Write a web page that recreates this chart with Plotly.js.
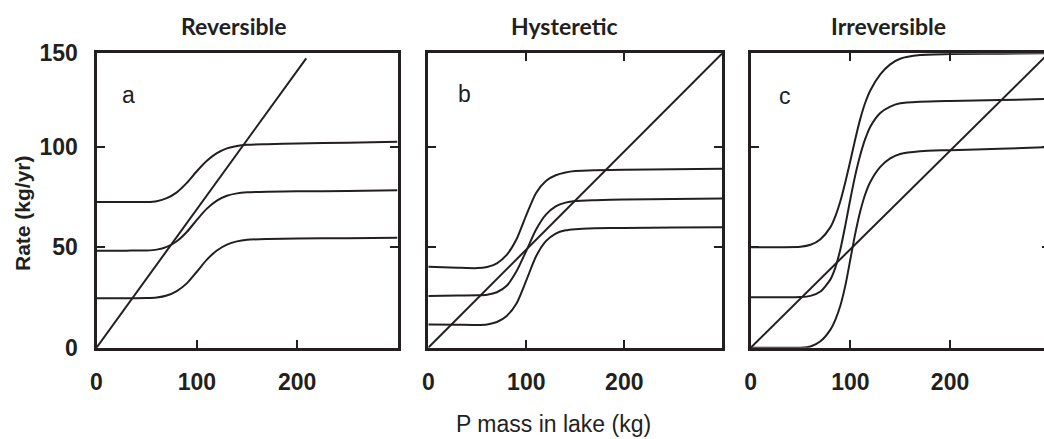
<!DOCTYPE html>
<html>
<head>
<meta charset="utf-8">
<script src="https://cdn.plot.ly/plotly-3.0.1.min.js"></script>
<style>
html, body { margin: 0; padding: 0; overflow: hidden; background: #fff; }
#chart { width: 1052px; height: 439px; }
</style>
</head>
<body>
<div id="chart"></div>
<script>
// ---------- data ----------
var panelTitles = ["Reversible", "Hysteretic", "Irreversible"];
var panelLetters = ["a", "b", "c"];
var xTickVals = [0, 100, 200];
var xTickText = ["0", "100", "200"];
var yTickVals = [0, 50, 100, 146.5];
var yTickText = ["0", "50", "100", "150"];
var xAxisTitle = "P mass in lake (kg)";
var yAxisTitle = "Rate (kg/yr)";

// Panel a: Reversible
var aLineX = [0, 209];
var aLineY = [0, 144];
var aX = [0, 30, 50, 60, 70, 80, 90, 100, 110, 120, 130, 140, 150, 170, 200, 250, 300];
var aTop = [72.5, 72.5, 72.5, 72.9, 74.4, 77.3, 82, 87.8, 93, 96.8, 99.2, 100.4, 101, 101.3, 101.6, 102, 102.5];
var aMid = [48.3, 48.3, 48.4, 48.8, 50.2, 53, 57.6, 63.6, 69.2, 73.2, 75.6, 76.8, 77.3, 77.6, 77.8, 78, 78.3];
var aLow = [24.6, 24.6, 24.7, 25, 26, 28.2, 32, 37.8, 43.8, 48.4, 51.3, 52.9, 53.7, 54.1, 54.3, 54.5, 54.7];

// Panel b: Hysteretic
var bLineX = [0, 300];
var bLineY = [0, 146.5];
var bX = [0, 30, 50, 60, 70, 80, 90, 100, 110, 120, 130, 140, 150, 170, 200, 250, 300];
var bTop = [40.3, 39.8, 39.6, 40.2, 42, 46.2, 54, 66, 77, 83, 85.8, 87.2, 87.9, 88.3, 88.5, 88.8, 89];
var bMid = [25.7, 26, 26.1, 26.4, 27.6, 30.8, 38, 48.2, 58.8, 66.2, 70.3, 72.2, 73, 73.4, 73.7, 74, 74.3];
var bLow = [11.6, 11.4, 11.3, 11.6, 12.8, 15.8, 22, 33.5, 45.5, 53, 56.8, 58.4, 59, 59.4, 59.6, 59.8, 60];

// Panel c: Irreversible
var cLineX = [0, 300];
var cLineY = [0, 147];
var cX = [0, 30, 50, 60, 70, 80, 85, 90, 95, 100, 105, 110, 115, 120, 130, 140, 150, 170, 200, 250, 300];
var cTop = [50, 50, 50.2, 51.2, 54, 60, 65.5, 73, 82.5, 93, 104, 114, 122, 128, 136, 141, 143.8, 145.6, 146.2, 146.3, 146.5];
var cMid = [25.1, 25.1, 25.2, 25.8, 28, 34, 40, 49, 61, 74, 86, 96, 104, 110, 116.8, 120, 121.6, 122.4, 122.8, 123.2, 123.8];
var cLow = [0, 0, 0, 0.6, 3.2, 9, 14, 21, 31, 44, 57, 68, 76.5, 82.5, 90, 94.2, 96.4, 97.8, 98.3, 99, 99.8];

// ---------- drawing ----------
var W = 1052, H = 439;
var INK = "#231f20";
function px(x) { return x / W; }
function py(y) { return 1 - y / H; }

function curve(x, y, xa, ya) {
  return { x: x, y: y, xaxis: xa, yaxis: ya, type: "scatter", mode: "lines",
    line: { color: INK, width: 2, shape: "spline", smoothing: 0.7 }, hoverinfo: "skip" };
}
function straight(x, y, xa, ya) {
  return { x: x, y: y, xaxis: xa, yaxis: ya, type: "scatter", mode: "lines",
    line: { color: INK, width: 2 }, hoverinfo: "skip" };
}

var traces = [
  straight(aLineX, aLineY, "x", "y"),
  curve(aX, aTop, "x", "y"), curve(aX, aMid, "x", "y"), curve(aX, aLow, "x", "y"),
  straight(bLineX, bLineY, "x2", "y2"),
  curve(bX, bTop, "x2", "y2"), curve(bX, bMid, "x2", "y2"), curve(bX, bLow, "x2", "y2"),
  straight(cLineX, cLineY, "x3", "y3"),
  curve(cX, cTop, "x3", "y3"), curve(cX, cMid, "x3", "y3"), curve(cX, cLow, "x3", "y3")
];

var tickFont = { family: "'Liberation Sans', Arial, sans-serif", size: 23, weight: "bold", color: INK };

function xAxis(d0, d1, mirror, anchor) {
  return { domain: [px(d0), px(d1)], range: [0, 300], anchor: anchor,
    showline: true, linewidth: 3, linecolor: INK, mirror: mirror,
    ticks: "inside", ticklen: 8, tickwidth: 2, tickcolor: INK,
    tickvals: xTickVals, ticktext: xTickText, tickfont: tickFont, ticklabelstandoff: 12,
    showgrid: false, zeroline: false, fixedrange: true };
}
function yAxis(anchor, labels) {
  return { domain: [py(347.7), py(53.3)], range: [0, 146.5], anchor: anchor,
    showline: true, linewidth: 3, linecolor: INK, mirror: "ticks",
    ticks: "inside", ticklen: 8, tickwidth: 2, tickcolor: INK,
    tickvals: yTickVals, ticktext: yTickText, tickfont: tickFont,
    showticklabels: labels, ticklabelstandoff: 11,
    showgrid: false, zeroline: false, fixedrange: true };
}

var titleFont = { family: "Lato, 'Open Sans', sans-serif", size: 23, weight: "bold", color: INK };
var letterFont = { family: "'Liberation Sans', Arial, sans-serif", size: 23, color: INK };

var annotations = [
  { text: panelTitles[0], x: px(234), y: py(26) },
  { text: panelTitles[1], x: px(564), y: py(26) },
  { text: panelTitles[2], x: px(888), y: py(26) }
].map(function (a) { return Object.assign(a, { font: titleFont }); });

[[panelLetters[0], 128, 95], [panelLetters[1], 464, 94], [panelLetters[2], 785, 96]].forEach(function (l) {
  annotations.push({ text: l[0], x: px(l[1]), y: py(l[2]), font: letterFont });
});

annotations.push({ text: yAxisTitle, x: px(22), y: py(213), textangle: -90,
  font: { family: "'Liberation Sans', Arial, sans-serif", size: 21, weight: "bold", color: INK } });
annotations.push({ text: xAxisTitle, x: px(553), y: py(424),
  font: { family: "'Liberation Sans', Arial, sans-serif", size: 23, color: INK } });

annotations.forEach(function (a) {
  a.xref = "paper"; a.yref = "paper"; a.showarrow = false;
  a.xanchor = "center"; a.yanchor = "middle";
});

var layout = {
  width: W, height: H,
  margin: { l: 0, r: 0, t: 0, b: 0 },
  paper_bgcolor: "#ffffff", plot_bgcolor: "#ffffff",
  showlegend: false,
  xaxis: xAxis(96.5, 397.5, true, "y"),
  yaxis: yAxis("x", true),
  xaxis2: xAxis(428.3, 722.3, "ticks", "y2"),
  yaxis2: yAxis("x2", false),
  xaxis3: xAxis(750.7, 1049.7, "ticks", "y3"),
  yaxis3: yAxis("x3", false),
  annotations: annotations
};

Plotly.newPlot("chart", traces, layout, { staticPlot: true, displayModeBar: false });
</script>
</body>
</html>
